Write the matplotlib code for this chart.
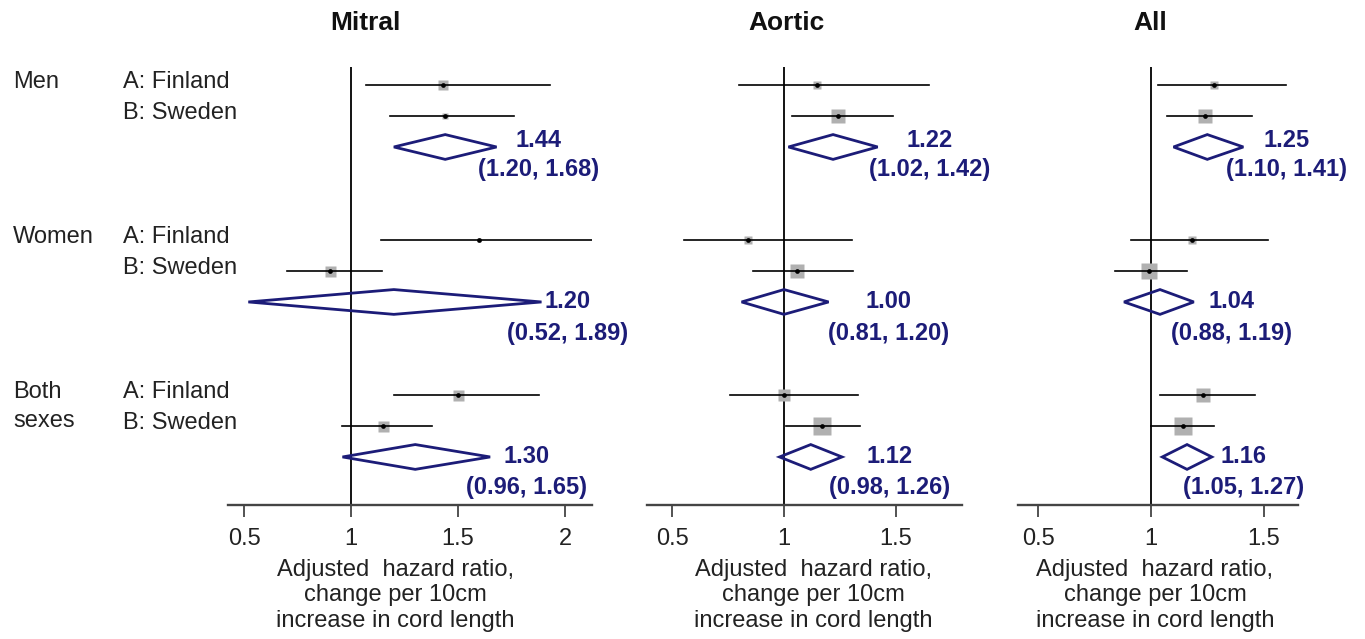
import matplotlib
matplotlib.use('Agg')
import matplotlib.pyplot as plt
from matplotlib.patches import Polygon
from matplotlib.transforms import blended_transform_factory

plt.rcParams['font.family'] = ['Liberation Sans', 'DejaVu Sans']

# data --------------------------------------------------------------
panels = ['Mitral', 'Aortic', 'All']
groups = ['Men', 'Women', 'Both']
studies = ['A: Finland', 'B: Sweden']

# study rows: Men A, Men B, Women A, Women B, Both A, Both B
mitral_hr = [1.43, 1.44, 1.60, 0.90, 1.50, 1.15]
mitral_lo = [1.07, 1.18, 1.14, 0.70, 1.20, 0.96]
mitral_hi = [1.93, 1.76, 2.25, 1.145, 1.88, 1.38]
aortic_hr = [1.15, 1.24, 0.84, 1.06, 1.00, 1.17]
aortic_lo = [0.80, 1.035, 0.55, 0.86, 0.76, 1.01]
aortic_hi = [1.65, 1.49, 1.305, 1.31, 1.33, 1.34]
all_hr = [1.28, 1.24, 1.18, 0.99, 1.23, 1.14]
all_lo = [1.03, 1.07, 0.91, 0.84, 1.04, 1.00]
all_hi = [1.60, 1.45, 1.52, 1.16, 1.46, 1.28]

# pooled estimates: Men, Women, Both sexes
mitral_pool = [1.44, 1.20, 1.30]
mitral_pool_lo = [1.20, 0.52, 0.96]
mitral_pool_hi = [1.68, 1.89, 1.65]
aortic_pool = [1.22, 1.00, 1.12]
aortic_pool_lo = [1.02, 0.81, 0.98]
aortic_pool_hi = [1.42, 1.20, 1.26]
all_pool = [1.25, 1.04, 1.16]
all_pool_lo = [1.10, 0.88, 1.05]
all_pool_hi = [1.41, 1.19, 1.27]

# layout / style ----------------------------------------------------
W, H = 1365, 639
navy = '#1c1c78'
box_px = [[8, 5, 4, 9, 9, 9],
          [7, 11, 7, 12, 10, 14],
          [7, 11, 7, 13, 11, 14]]
ax_left = [228, 647, 1018]
ax_width = [364, 315, 280]
xlims = [(0.425, 2.126), (0.386, 1.798), (0.409, 1.653)]
xticks = [[0.5, 1, 1.5, 2], [0.5, 1, 1.5], [0.5, 1, 1.5]]
title_px = [365, 786, 1150]
xlabel_x = [0.459, 0.527, 0.489]
label_x = [[1.878, 2.01, 1.82], [1.655, 1.47, 1.475], [1.60, 1.356, 1.413]]
est_dy = [0.22, 0.0, 0.0]
ci_dy = [-0.74, -1.03, -1.0]

hr = [mitral_hr, aortic_hr, all_hr]
lo = [mitral_lo, aortic_lo, all_lo]
hi = [mitral_hi, aortic_hi, all_hi]
pool = [mitral_pool, aortic_pool, all_pool]
pool_lo = [mitral_pool_lo, aortic_pool_lo, all_pool_lo]
pool_hi = [mitral_pool_hi, aortic_pool_hi, all_pool_hi]

fig = plt.figure(figsize=(W / 100, H / 100), dpi=100)

axes = []
for p in range(3):
    ax = fig.add_axes([ax_left[p] / W, (H - 505) / H, ax_width[p] / W, 438 / H])
    axes.append(ax)
    ax.set_xlim(*xlims[p])
    ax.set_ylim(-13.55, 0.58)
    for s in ['top', 'left', 'right']:
        ax.spines[s].set_visible(False)
    ax.spines['bottom'].set_color('#444444')
    ax.spines['bottom'].set_linewidth(1.7)
    ax.set_yticks([])
    ax.set_xticks(xticks[p])
    ax.set_xticklabels(['%g' % t for t in xticks[p]])
    ax.tick_params(axis='x', direction='out', length=8.5, width=1.3,
                   color='#444444', pad=8, labelsize=17, labelcolor='#222222')
    ax.axvline(1, color='black', lw=1.3, zorder=1)

    for g in range(3):
        for r in range(2):
            i = g * 2 + r
            y = -(g * 5 + r)
            ax.plot([lo[p][i], hi[p][i]], [y, y], color='black', lw=1.2, zorder=3)
            ax.plot(hr[p][i], y, marker='s', ms=box_px[p][i] * 0.88,
                    color='#b0b0b0', mec='none', zorder=2)
            ax.plot(hr[p][i], y, marker='o', ms=3.4, color='black', mec='none', zorder=4)
        yd = -(g * 5 + 2)
        e, l, h = pool[p][g], pool_lo[p][g], pool_hi[p][g]
        ax.add_patch(Polygon([(l, yd), (e, yd + 0.4), (h, yd), (e, yd - 0.4)],
                             closed=True, fill=False, edgecolor=navy, lw=2.0, zorder=3))
        ax.text(label_x[p][g], yd + est_dy[g], '%.2f' % e, ha='center', va='center',
                color=navy, fontsize=17, fontweight='bold')
        ax.text(label_x[p][g], yd + ci_dy[g], '(%.2f, %.2f)' % (l, h), ha='center',
                va='center', color=navy, fontsize=17, fontweight='bold')

    ax.set_xlabel('Adjusted  hazard ratio,\nchange per 10cm\nincrease in cord length',
                  fontsize=17, color='#222222', linespacing=1.2)
    ax.xaxis.set_label_coords(xlabel_x[p], -0.123)

    fig.text(title_px[p] / W, 1 - 23 / H, panels[p], ha='center', va='center',
             fontsize=19, fontweight='bold', color='#111111')

# row labels on the left
tr = blended_transform_factory(fig.transFigure, axes[0].transData)
row_labels = ['Men', 'Women', 'Both']
for g in range(3):
    axes[0].text(13 / W, -(g * 5) + 0.08, row_labels[g], transform=tr, ha='left',
                 va='center', fontsize=17, color='#222222')
    for r in range(2):
        axes[0].text(123 / W, -(g * 5 + r) + 0.08, studies[r], transform=tr, ha='left',
                     va='center', fontsize=17, color='#222222')
axes[0].text(13 / W, -11 + 0.15, 'sexes', transform=tr, ha='left', va='center',
             fontsize=17, color='#222222')

fig.savefig('out.png', dpi=100)
